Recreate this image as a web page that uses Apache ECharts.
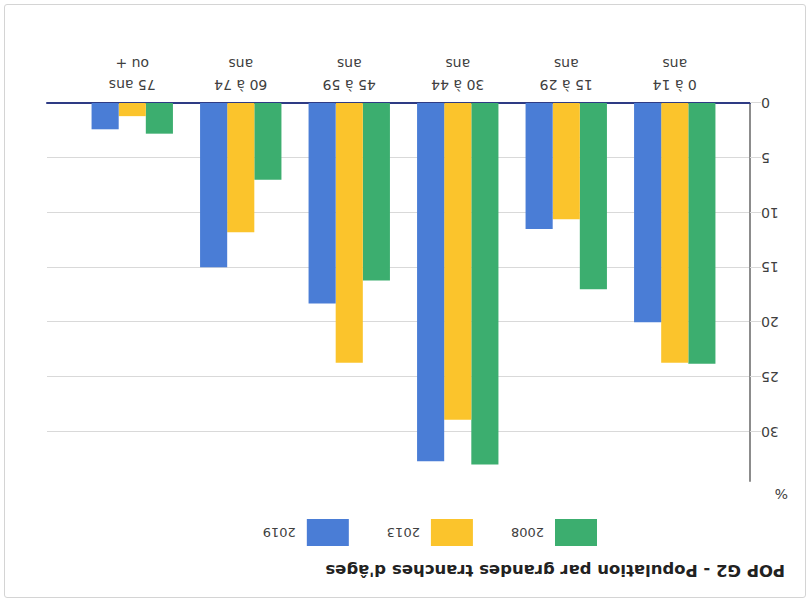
<!DOCTYPE html>
<html>
<head>
<meta charset="utf-8">
<script src="https://cdn.jsdelivr.net/npm/echarts@6/dist/echarts.min.js"></script>
<style>
  html, body { margin: 0; padding: 0; background: #ffffff; overflow: hidden; }
  #wrap { position: absolute; left: 0; top: 0; width: 811px; height: 601px; transform: rotate(180deg); transform-origin: 50% 50%; background: #fff; }
  #frame { position: absolute; left: 5px; top: 3px; width: 800px; height: 592px; border: 1px solid #d4d4d4; border-radius: 3px; }
  #chart { position: absolute; left: 0; top: 0; width: 811px; height: 601px; }
</style>
</head>
<body>
<div id="wrap">
  <div id="frame"></div>
  <div id="chart"></div>
</div>
<script>
const titleText = "POP G2 - Population par grandes tranches d'âges";
const categories = ['0 à 14\nans', '15 à 29\nans', '30 à 44\nans', '45 à 59\nans', '60 à 74\nans', '75 ans\nou +'];
const seriesNames = ['2008', '2013', '2019'];
const values2008 = [23.8, 17.0, 33.0, 16.2, 7.0, 2.8];
const values2013 = [23.7, 10.6, 28.9, 23.7, 11.8, 1.2];
const values2019 = [20.0, 11.5, 32.7, 18.3, 15.0, 2.4];
const yTicks = [0, 5, 10, 15, 20, 25, 30];
const yMax = 34.5;

const colors = ['#3cae6f', '#fbc42c', '#4a7dd6'];
const font = 'DejaVu Sans';

const chart = echarts.init(document.getElementById('chart'), null, { renderer: 'svg' });
const gridTop = 120, gridBottom = 103;

chart.setOption({
  animation: false,
  textStyle: { fontFamily: font },
  title: {
    text: titleText, left: 26, top: 22, padding: 0,
    textStyle: { fontFamily: font, fontSize: 16.5, fontWeight: 'bold', color: '#222' }
  },
  legend: {
    data: seriesNames, left: 214, top: 55, padding: 0,
    icon: 'rect', itemWidth: 42, itemHeight: 27, itemGap: 38,
    textStyle: { fontFamily: font, fontSize: 13, color: '#404040', padding: [0, 0, 0, 6] }
  },
  graphic: [{
    type: 'text', left: 23, top: 100,
    style: { text: '%', fontFamily: font, fontSize: 14, fill: '#404040' }
  }],
  grid: [
    { left: 61, right: 47, top: gridTop, bottom: gridBottom },
    { left: 82, right: 78, top: gridTop, bottom: gridBottom }
  ],
  xAxis: [
    { type: 'value', gridIndex: 0, min: 0, max: 1,
      axisLine: { show: true, lineStyle: { color: '#2e3b84', width: 2 } },
      axisTick: { show: false }, axisLabel: { show: false }, splitLine: { show: false } },
    { type: 'category', gridIndex: 1, data: categories,
      axisLine: { show: false }, axisTick: { show: false },
      axisLabel: { margin: 8, fontFamily: font, fontSize: 14, lineHeight: 21, color: '#404040', interval: 0 } }
  ],
  yAxis: [
    { type: 'value', gridIndex: 0, min: 0, max: yMax, interval: 5,
      axisLine: { show: true, lineStyle: { color: '#8c8c8c', width: 2 } },
      axisTick: { show: true, length: 11, customValues: yTicks, lineStyle: { color: '#d9d9d9' } },
      axisLabel: { margin: 11, fontFamily: font, fontSize: 14, color: '#404040', customValues: yTicks,
        formatter: v => (yTicks.indexOf(v) >= 0 ? String(v) : '') },
      splitLine: { show: true, lineStyle: { color: ['#d9d9d9', '#d9d9d9', '#d9d9d9', '#d9d9d9', '#d9d9d9', '#d9d9d9', '#d9d9d9', 'rgba(0,0,0,0)'], width: 1 } } },
    { type: 'value', gridIndex: 1, min: 0, max: yMax, show: false, splitLine: { show: false } }
  ],
  series: [
    { name: seriesNames[0], type: 'bar', xAxisIndex: 1, yAxisIndex: 1, data: values2008, itemStyle: { color: colors[0] }, barGap: '0%', barCategoryGap: '25%' },
    { name: seriesNames[1], type: 'bar', xAxisIndex: 1, yAxisIndex: 1, data: values2013, itemStyle: { color: colors[1] }, barGap: '0%', barCategoryGap: '25%' },
    { name: seriesNames[2], type: 'bar', xAxisIndex: 1, yAxisIndex: 1, data: values2019, itemStyle: { color: colors[2] }, barGap: '0%', barCategoryGap: '25%' }
  ]
});
</script>
</body>
</html>
